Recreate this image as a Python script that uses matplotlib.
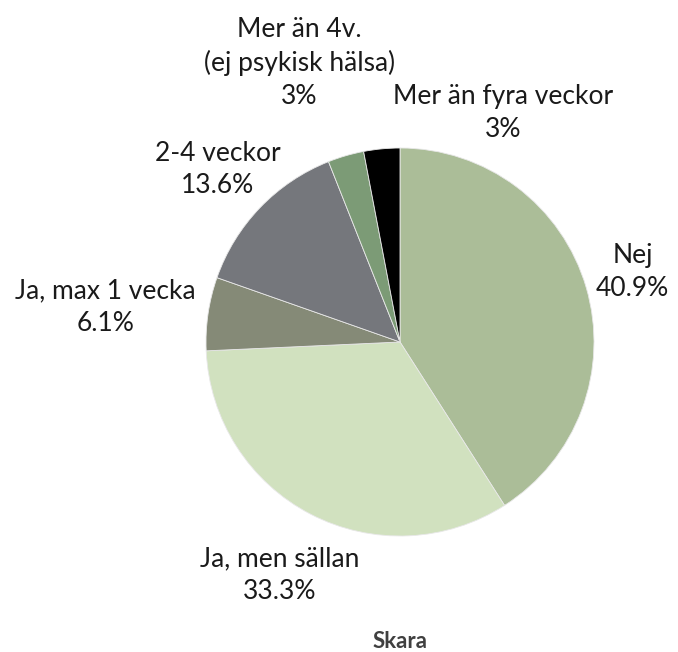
import matplotlib
matplotlib.use("Agg")
import matplotlib.pyplot as plt
import numpy as np

# values (clockwise from 12 o'clock)
categories = [
    "Nej",
    "Ja, men sällan",
    "Ja, max 1 vecka",
    "2-4 veckor",
    "Mer än 4v.\n(ej psykisk hälsa)",
    "Mer än fyra veckor",
]
shares = [40.9, 33.3, 6.1, 13.6, 3.0, 3.0]
pct_labels = ["40.9%", "33.3%", "6.1%", "13.6%", "3%", "3%"]
colors = ["#abbd98", "#d1e1bf", "#858a77", "#75777c", "#7c9b76", "#000000"]
title = "Skara"

# label centres in pie-radius units (placement only)
label_pos = [
    (1.20, 0.36),
    (-0.62, -1.20),
    (-1.52, 0.18),
    (-0.94, 0.89),
    (-0.52, 1.44),
    (0.53, 1.18),
]

W, H, DPI = 678, 652, 100
CX, CY, R = 400, 342, 194  # pie centre / radius in pixels

plt.rcParams["font.family"] = ["Lato", "DejaVu Sans"]

fig = plt.figure(figsize=(W / DPI, H / DPI), dpi=DPI)
ax = fig.add_axes([0, 0, 1, 1])

ax.pie(
    shares,
    colors=colors,
    startangle=90,
    counterclock=False,
    radius=1.0,
    normalize=True,
    wedgeprops=dict(edgecolor="#e8e8e8", linewidth=0.6),
    frame=True,
)
ax.set_xlim(-CX / R, (W - CX) / R)
ax.set_ylim((CY - H) / R, CY / R)
ax.set_aspect("auto")
ax.axis("off")

for cat, pct, (x, y) in zip(categories, pct_labels, label_pos):
    ax.text(x, y, f"{cat}\n{pct}", ha="center", va="center", fontsize=19,
            color="#1a1a1a", linespacing=1.38)

fig.text(CX / W, 1 - 641 / H, title, ha="center", va="center", fontsize=16,
         fontweight="bold", color="#404040")

fig.savefig("out.png", dpi=DPI)
